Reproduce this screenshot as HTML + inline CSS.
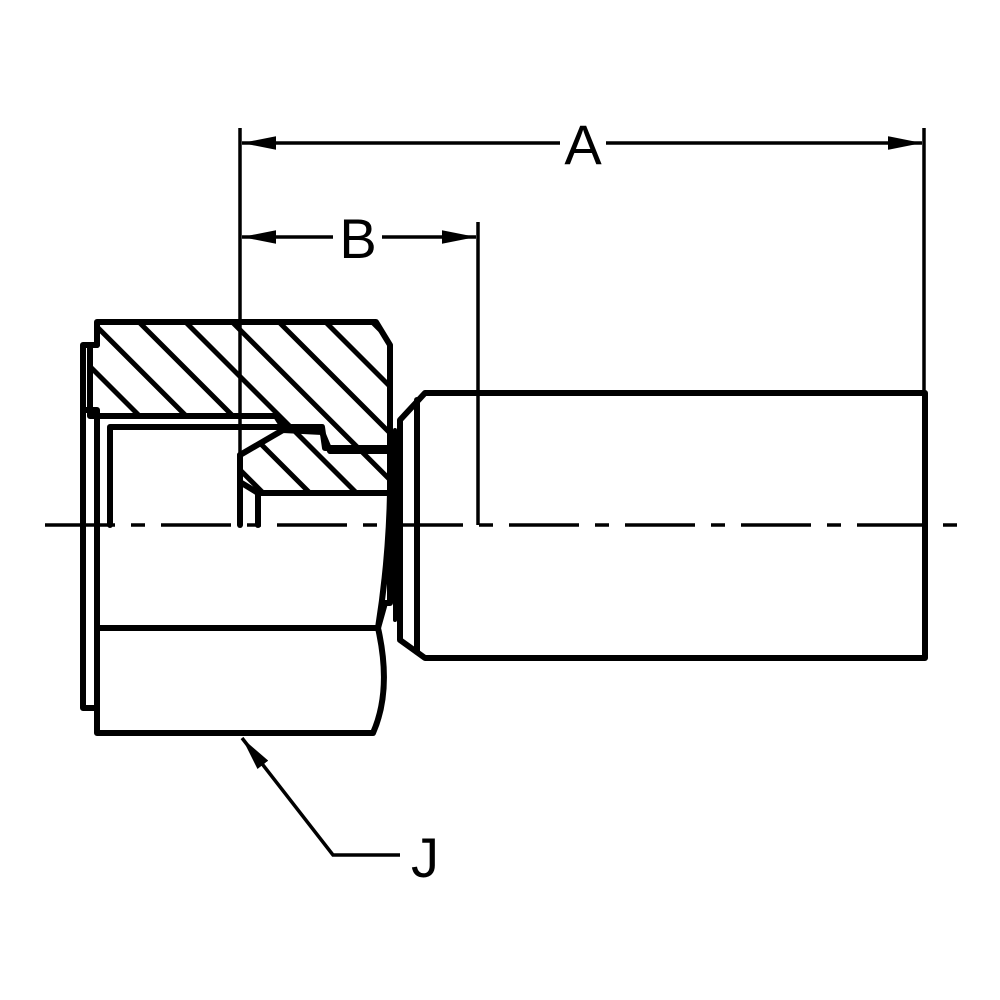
<!DOCTYPE html>
<html><head><meta charset="utf-8"><style>html,body{margin:0;padding:0;background:#fff}svg{display:block}</style></head>
<body>
<svg width="1000" height="1000" viewBox="0 0 1000 1000" xmlns="http://www.w3.org/2000/svg">
<defs>
<pattern id="h" patternUnits="userSpaceOnUse" width="33" height="33" patternTransform="rotate(-45)">
<rect x="0" y="0" width="5" height="33" fill="#000"/>
</pattern>
<marker id="ar" viewBox="0 0 20 10" refX="20" refY="5" markerWidth="34" markerHeight="17" markerUnits="userSpaceOnUse" orient="auto-start-reverse">
<path d="M0,1 L20,5 L0,9 Z" fill="#000"/>
</marker>
</defs>
<g fill="none" stroke="#000" stroke-width="6" stroke-linejoin="round" stroke-linecap="round">
<path d="M97,322 L376,322 L390,345 L390,448 L325,448 L322,427 L283,427 L276,416 L90,416 L90,345 L97,345 Z" fill="url(#h)"/>
<path d="M97,345 L83,345 L83,708 L97,708"/>
<path d="M83,410 L97,410 L97,733 L373,733 Q392,690 378,628 Q392,540 390,448"/>
<path d="M97,628 L378,628"/>
<path d="M378,628 L385,603 L390,603 L390,448"/>
<path d="M110,525 L110,427 L283,427"/>
<path d="M240,455 L283,430 L322,432 L330,451 L395,451 L395,493 L258,493 L240,482 Z" fill="url(#h)"/>
<path d="M240,455 L240,525"/>
<path d="M258,493 L258,525"/>
<path d="M425,393 L925,393 L925,658 L425,658 L400,640 L400,420 Z"/>
<path d="M417,400 L417,652"/>
<path d="M395,430 L395,620" stroke-width="4"/>
</g>
<line x1="45" y1="525" x2="965" y2="525" stroke="#000" stroke-width="3.5" stroke-dasharray="70,16,14,16"/>
<g stroke="#000" stroke-width="3.5" fill="none">
<line x1="240" y1="128" x2="240" y2="455"/>
<line x1="924" y1="128" x2="924" y2="393"/>
<line x1="478" y1="222" x2="478" y2="525"/>
<line x1="242" y1="143" x2="560" y2="143" marker-start="url(#ar)"/>
<line x1="606" y1="143" x2="922" y2="143" marker-end="url(#ar)"/>
<line x1="242" y1="237" x2="333" y2="237" marker-start="url(#ar)"/>
<line x1="382" y1="237" x2="476" y2="237" marker-end="url(#ar)"/>
<polyline points="400,855 333,855 242,738" marker-end="url(#ar)"/>
</g>
<g font-family="Liberation Sans, sans-serif" font-size="56" fill="#000">
<text x="583" y="164" text-anchor="middle">A</text>
<text x="358" y="258" text-anchor="middle">B</text>
<text x="425" y="877" text-anchor="middle">J</text>
</g>
</svg>
</body></html>
